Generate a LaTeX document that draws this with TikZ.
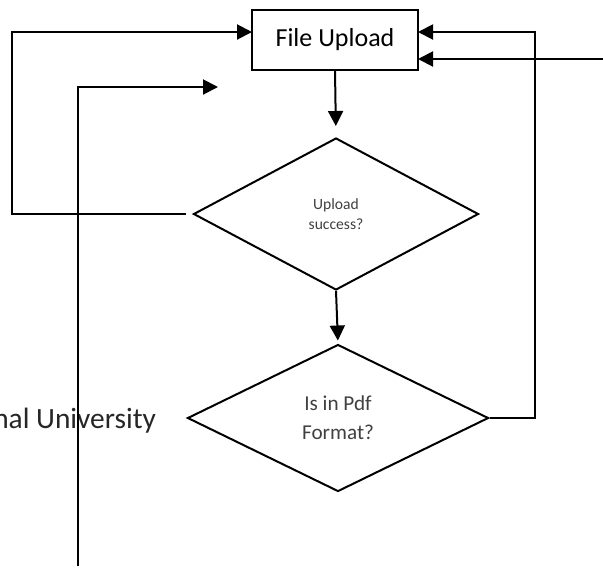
\documentclass[tikz,border=0pt]{standalone}
\usepackage{fontspec}
\setmainfont{Carlito}
\usetikzlibrary{shapes.geometric,arrows.meta}
\begin{document}
\begin{tikzpicture}[x=0.5pt,y=-0.5pt,
    line width=1pt,
    >={Triangle[length=7.5pt,width=7.5pt]},
    box/.style={draw,rectangle,minimum width=83pt,minimum height=30pt,inner sep=0pt,font=\fontsize{13}{15}\selectfont},
    decision/.style={draw,diamond,inner sep=0pt,align=center,text=black!75}]
    \useasboundingbox (0,0) rectangle (603,569);
    \node[box] (upload) at (335,40) {File Upload};
    \node[decision,minimum width=142.5pt,minimum height=76pt,
      font=\fontsize{7.8}{10}\selectfont] (success) at (336,214)
    {Upload\\success?};
    \node[decision,minimum width=150.5pt,minimum height=73.5pt,
      font=\fontsize{10.6}{14.5}\selectfont] (pdf) at (338,418)
    {Is in Pdf\\Format?};
    \node[anchor=base east,inner sep=0pt,text=black!85,
      font=\fontsize{14.7}{17}\selectfont]
    (univ) at (157,428) {nal University};
    \coordinate (inL) at (252,32);
    \coordinate (inR1) at (418,32);
    \coordinate (inR2) at (418,59);
    \coordinate (edge) at (603,59);
    \coordinate (low) at (78,566);
    \coordinate (tip) at (218,87);
    \draw[->,shorten >=5.5pt] (upload.south) -- (success.north);
    \draw[->,shorten >=1.5pt] (success.south) -- (pdf.north);
    \draw[->,shorten <=3.5pt] (success.west) -- (12,214) -- (12,32) -- (inL);
    \draw[->] (pdf.east) -- (535,418) -- (535,32) -- (inR1);
    \draw[->] (edge) -- (inR2);
    \draw[->] (low) -- (78,87) -- (tip);
\end{tikzpicture}
\end{document}
